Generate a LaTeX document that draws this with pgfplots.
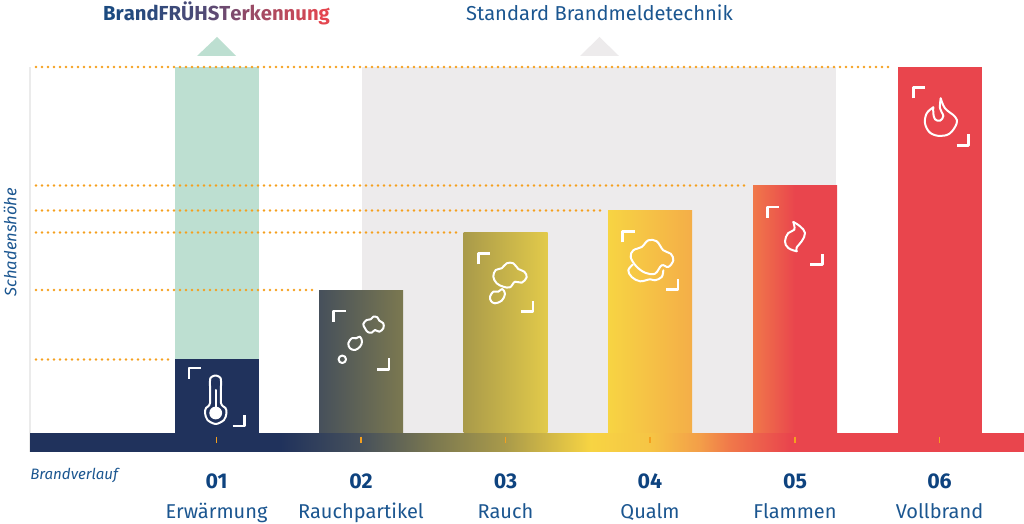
\documentclass[border=0pt]{standalone}
\usepackage{pgfplots}
\pgfplotsset{compat=1.18}
\usepackage{fontspec}
\setmainfont{Fira Sans}
\usetikzlibrary{shadings}

\definecolor{navy}{HTML}{20325C}
\definecolor{mint}{HTML}{BDDFD1}
\definecolor{panel}{HTML}{EDEBEC}
\definecolor{fire}{HTML}{E9454D}
\definecolor{dots}{HTML}{F5A01E}
\definecolor{txt}{HTML}{1B5690}
\definecolor{num}{HTML}{0E437F}
\definecolor{c2a}{HTML}{46505B}
\definecolor{c2b}{HTML}{7B7850}
\definecolor{c3a}{HTML}{A99A4A}
\definecolor{c3b}{HTML}{E2CA4A}
\definecolor{c4a}{HTML}{F7D443}
\definecolor{c4b}{HTML}{F4AE48}
\definecolor{c5a}{HTML}{F0784A}

\pgfdeclarehorizontalshading{bartwo}{100bp}{color(0bp)=(c2a); color(25bp)=(c2a); color(75bp)=(c2b); color(100bp)=(c2b)}
\pgfdeclarehorizontalshading{barthree}{100bp}{color(0bp)=(c3a); color(25bp)=(c3a); color(75bp)=(c3b); color(100bp)=(c3b)}
\pgfdeclarehorizontalshading{barfour}{100bp}{color(0bp)=(c4a); color(25bp)=(c4a); color(75bp)=(c4b); color(100bp)=(c4b)}
\pgfdeclarehorizontalshading{barfive}{100bp}{color(0bp)=(c5a); color(25bp)=(c5a); color(50bp)=(fire); color(100bp)=(fire)}
\pgfdeclarehorizontalshading{band}{100bp}{color(0bp)=(navy); color(37.6bp)=(navy); color(41.6bp)=(c2a); color(45.3bp)=(c2b); color(48.9bp)=(c3a); color(53.2bp)=(c4a); color(56.2bp)=(c4a!60!c4b); color(58.7bp)=(c4b!70!c5a); color(60.2bp)=(c5a); color(63.2bp)=(fire); color(100bp)=(fire)}

\newcommand{\sz}[2]{\fontsize{#1}{#2}\selectfont}

\begin{document}
\begin{tikzpicture}
\path[use as bounding box] (0,0) rectangle (768pt,393pt);

\begin{axis}[
  at={(22.5pt,54pt)}, anchor=south west,
  scale only axis,
  width=745.5pt, height=288.75pt,
  xmin=30, xmax=1024,
  ymin=-19, ymax=366,
  clip=false,
  axis x line=bottom, axis y line=left,
  x axis line style={draw=none},
  y axis line style={draw=black!8, line width=1pt, -},
  ytick=\empty,
  xtick={216.5,361,505.5,650,795,939.5},
  xticklabels={{\textbf{\color{num}\sz{16}{22}01}\\Erwärmung},{\textbf{\color{num}\sz{16}{22}02}\\Rauchpartikel},{\textbf{\color{num}\sz{16}{22}03}\\Rauch},{\textbf{\color{num}\sz{16}{22}04}\\Qualm},{\textbf{\color{num}\sz{16}{22}05}\\Flammen},{\textbf{\color{num}\sz{16}{22}06}\\Vollbrand}},
  xticklabel style={align=center, text=txt, font=\sz{15}{22}, yshift=-13pt},
  major tick length=0pt,
  xlabel={Brandverlauf},
  every axis x label/.style={at={(axis description cs:0,-0.062)}, anchor=west, inner sep=0pt, font=\itshape\sz{11.3}{13}, text=txt},
  ylabel={Schadenshöhe},
  every axis y label/.style={at={(axis description cs:-0.02,0.545)}, rotate=90, anchor=center, font=\itshape\sz{12.4}{14}, text=txt},
]
% background panels
\addplot[draw=none, fill=panel] coordinates {(362,0) (362,366) (836,366) (836,0)};
\addplot[ybar, bar width=63pt, bar shift=0pt, draw=none, fill=mint] coordinates {(216.5,366)};

% triangles above the panels
\addplot[draw=none, fill=mint] coordinates {(197,377) (217,396) (236,377)};
\addplot[draw=none, fill=panel] coordinates {(580,377) (599.5,396) (619,377)};

% guide lines
\addplot[dots, line width=2.1pt, line cap=round, dash pattern=on 0pt off 4.5pt] coordinates {(36,366) (892,366)};
\addplot[dots, line width=2.1pt, line cap=round, dash pattern=on 0pt off 4.5pt] coordinates {(36,247.5) (749,247.5)};
\addplot[dots, line width=2.1pt, line cap=round, dash pattern=on 0pt off 4.5pt] coordinates {(36,222.5) (605,222.5)};
\addplot[dots, line width=2.1pt, line cap=round, dash pattern=on 0pt off 4.5pt] coordinates {(36,200.5) (460,200.5)};
\addplot[dots, line width=2.1pt, line cap=round, dash pattern=on 0pt off 4.5pt] coordinates {(36,143) (316,143)};
\addplot[dots, line width=2.1pt, line cap=round, dash pattern=on 0pt off 4.5pt] coordinates {(36,73.5) (173,73.5)};

% bars
\addplot[ybar, bar width=63pt, bar shift=0pt, draw=none, fill=navy] coordinates {(216.5,74)};
\addplot[ybar, bar width=63pt, bar shift=0pt, draw=none, shade, shading=bartwo] coordinates {(361,142.5)};
\addplot[ybar, bar width=63pt, bar shift=0pt, draw=none, shade, shading=barthree] coordinates {(505.5,200.5)};
\addplot[ybar, bar width=63pt, bar shift=0pt, draw=none, shade, shading=barfour] coordinates {(650,222.5)};
\addplot[ybar, bar width=63pt, bar shift=0pt, draw=none, shade, shading=barfive] coordinates {(795,247.5)};
\addplot[ybar, bar width=63pt, bar shift=0pt, draw=none, fill=fire] coordinates {(939.5,366)};

% base band and its small ticks
\addplot[draw=none, shade, shading=band] coordinates {(30,-19) (30,-0.5) (1024,-0.5) (1024,-19)};
\addplot[only marks, mark=|, mark size=2.6pt, mark options={draw=dots, line width=1pt}] coordinates {(216.5,-7) (361,-7) (505.5,-7) (650,-7) (795,-7) (939.5,-7)};
\end{axis}

% headings and icons, in reference pixels
\begin{scope}[x=.75pt, y=-.75pt, yshift=393pt]
\node[font=\bfseries\sz{15.2}{18}] at (216.5,13) {\textcolor[HTML]{1B4A80}{B}\textcolor[HTML]{1E4A7F}{r}\textcolor[HTML]{234A7E}{a}\textcolor[HTML]{284A7D}{n}\textcolor[HTML]{2D4A7C}{d}\textcolor[HTML]{344A7B}{F}\textcolor[HTML]{3C4A79}{R}\textcolor[HTML]{464A78}{Ü}\textcolor[HTML]{504A76}{H}\textcolor[HTML]{5E4A73}{S}\textcolor[HTML]{6E4A70}{T}\textcolor[HTML]{7E4A6C}{e}\textcolor[HTML]{8E4A68}{r}\textcolor[HTML]{9A4A65}{k}\textcolor[HTML]{A64A62}{e}\textcolor[HTML]{B24A5E}{n}\textcolor[HTML]{BE495B}{n}\textcolor[HTML]{CA4857}{u}\textcolor[HTML]{D84753}{n}\textcolor[HTML]{E4464F}{g}};
\node[font=\sz{15.1}{18}, text=txt] at (599.5,12.5) {Standard Brandmeldetechnik};

\begin{scope}[draw=white, line width=1.5pt, line join=round, line cap=round]
% corner brackets
\foreach \a/\b/\c/\d in {189/368/244.5/426, 333.7/311/389/369.3, 478.3/253.3/533/311.7, 622.7/231.3/678/289.7, 767.3/207/822.3/264.7, 913.3/87.3/968.7/145.3}{
  \draw[line width=2pt, line cap=butt] (\a,\b+11) -- (\a,\b) -- (\a+12,\b);
  \draw[line width=2pt, line cap=butt] (\c-12,\d) -- (\c,\d) -- (\c,\d-11);
}
% thermometer
\draw plot[smooth cycle, tension=.5] coordinates {(210,381) (211.5,377) (215.5,375.5) (219.5,377) (221,381) (221,403) (225.5,408) (226.5,413) (224,420) (215.7,424) (207.5,420) (205,413) (206,408) (210,403)};
\fill[white] (215.7,413) circle[radius=4.8pt];
\draw (215.7,390) -- (215.7,410);
% smoke particles
\draw plot[smooth cycle, tension=.6] coordinates {(365,328.3) (363.3,324) (366.7,320) (370.7,319.3) (373.3,316.7) (377.3,317.3) (379.3,320.7) (383.3,323.3) (383.3,328.3) (379.3,331.7) (375,330) (371.7,332.7) (367.7,332)};
\draw plot[smooth cycle, tension=.6] coordinates {(348.3,343.3) (351.7,338.3) (356,338.3) (360,336.7) (362,341.7) (360,346.7) (355,350) (350,348.3)};
\draw (342.3,359.3) circle[radius=2.8pt];
% smoke
\draw plot[smooth cycle, tension=.6] coordinates {(493.3,276.7) (495.7,270) (501.7,268.3) (506.7,263.3) (513.3,263.3) (518.3,269) (524.3,271.7) (526.7,277.3) (521.7,282.7) (515,281.7) (510,287.3) (503.3,286.7) (496.7,283.3)};
\draw plot[smooth cycle, tension=.6] coordinates {(490,296.7) (493.3,291.7) (498.3,291.7) (502.3,289) (505,294) (501.7,300.7) (495,303.3) (491,301)};
% heavy smoke
\draw plot[smooth cycle, tension=.6] coordinates {(630.7,257) (633.3,250.3) (641.7,247) (648.3,240.3) (656.7,241.3) (663.3,250.3) (670.7,253.7) (673.3,260.3) (668.3,267) (661.7,265.3) (655,273.7) (645,272.7) (636,266)};
\draw plot[smooth, tension=.6] coordinates {(632.7,264.7) (628.3,270.3) (631.7,277) (640,281.3) (650,279.3) (655,280.3) (661.7,277) (663.3,270.3)};
% flame
\draw plot[smooth, tension=.7] coordinates {(793.3,222) (800,226.3) (805,233) (801.7,241.3) (796.7,247.3) (796.7,251.3)};
\draw plot[smooth, tension=.7] coordinates {(796.7,251.3) (788.3,248) (785,241.3) (788.3,233) (794.3,229.7) (793.3,222)};
% full fire
\draw plot[smooth, tension=.6] coordinates {(940.7,98.3) (945,108.3) (955,116.7) (956.7,123.3) (950,133.3) (940,136) (930,132.7) (925,123.3) (926.7,113.3) (933.3,107.3)};
\draw plot[smooth, tension=.6] coordinates {(933.3,107.3) (933.3,113.3) (935,119.3) (940,120.7) (943.3,116) (940,108.3) (940.7,98.3)};
\end{scope}
\end{scope}
\end{tikzpicture}
\end{document}
